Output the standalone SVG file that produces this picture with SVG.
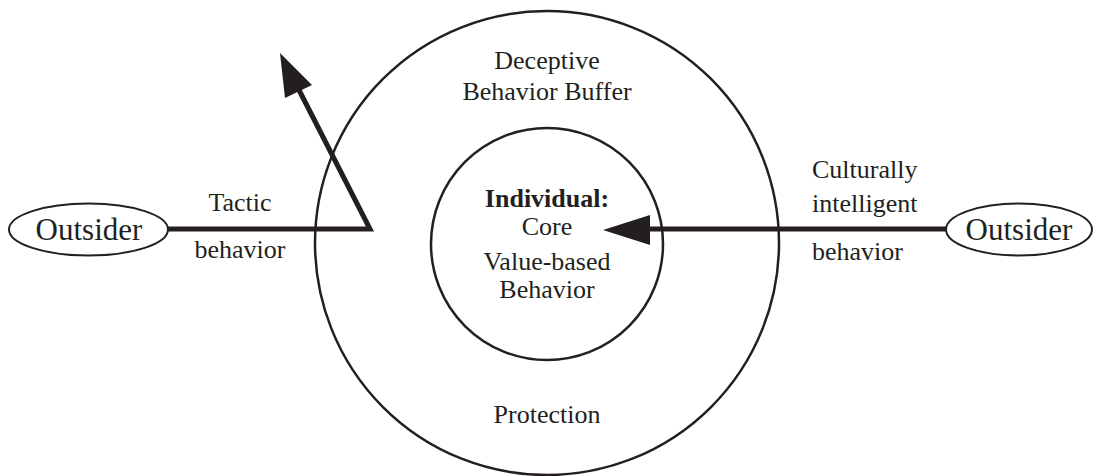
<svg xmlns="http://www.w3.org/2000/svg" width="1096" height="476" viewBox="0 0 1096 476">
<style>
text{font-family:"Liberation Serif","Times New Roman",serif;fill:#231f20;font-size:26px}
.c{text-anchor:middle}
.b{font-weight:bold}
.o{font-size:31px}
.ring{fill:none;stroke:#231f20;stroke-width:2.5}
.ell{fill:#fff;stroke:#231f20;stroke-width:2}
.conn{fill:none;stroke:#231f20;stroke-width:5;stroke-linejoin:miter}
.head{fill:#231f20;stroke:none}
</style>
<rect width="1096" height="476" fill="#fff"/>
<g id="outer-circle">
<circle class="ring" cx="547" cy="243" r="232"/>
<text class="c" x="547" y="69">Deceptive</text>
<text class="c" x="547" y="100">Behavior Buffer</text>
<text class="c" x="547" y="423">Protection</text>
</g>
<g id="inner-circle">
<circle class="ring" cx="547" cy="244" r="116"/>
<text class="c b" x="547" y="207">Individual:</text>
<text class="c" x="547" y="235">Core</text>
<text class="c" x="547" y="270">Value-based</text>
<text class="c" x="547" y="298">Behavior</text>
</g>
<g id="connectors">
<polyline class="conn" points="168,229 370,229 298,88"/>
<polygon class="head" points="280,53 285,98 312,85"/>
<line class="conn" x1="946" y1="229" x2="645" y2="229"/>
<polygon class="head" points="603,230 650,215 650,245"/>
</g>
<g id="labels">
<text class="c" x="240" y="211">Tactic</text>
<text class="c" x="240" y="258">behavior</text>
<text x="812" y="178">Culturally</text>
<text x="812" y="212">intelligent</text>
<text x="812" y="260">behavior</text>
</g>
<g id="outsider-left">
<ellipse class="ell" cx="88.5" cy="229.5" rx="79.5" ry="26"/>
<text class="c o" x="89" y="240">Outsider</text>
</g>
<g id="outsider-right">
<ellipse class="ell" cx="1019" cy="229.5" rx="73" ry="26"/>
<text class="c o" x="1019" y="240">Outsider</text>
</g>
</svg>
